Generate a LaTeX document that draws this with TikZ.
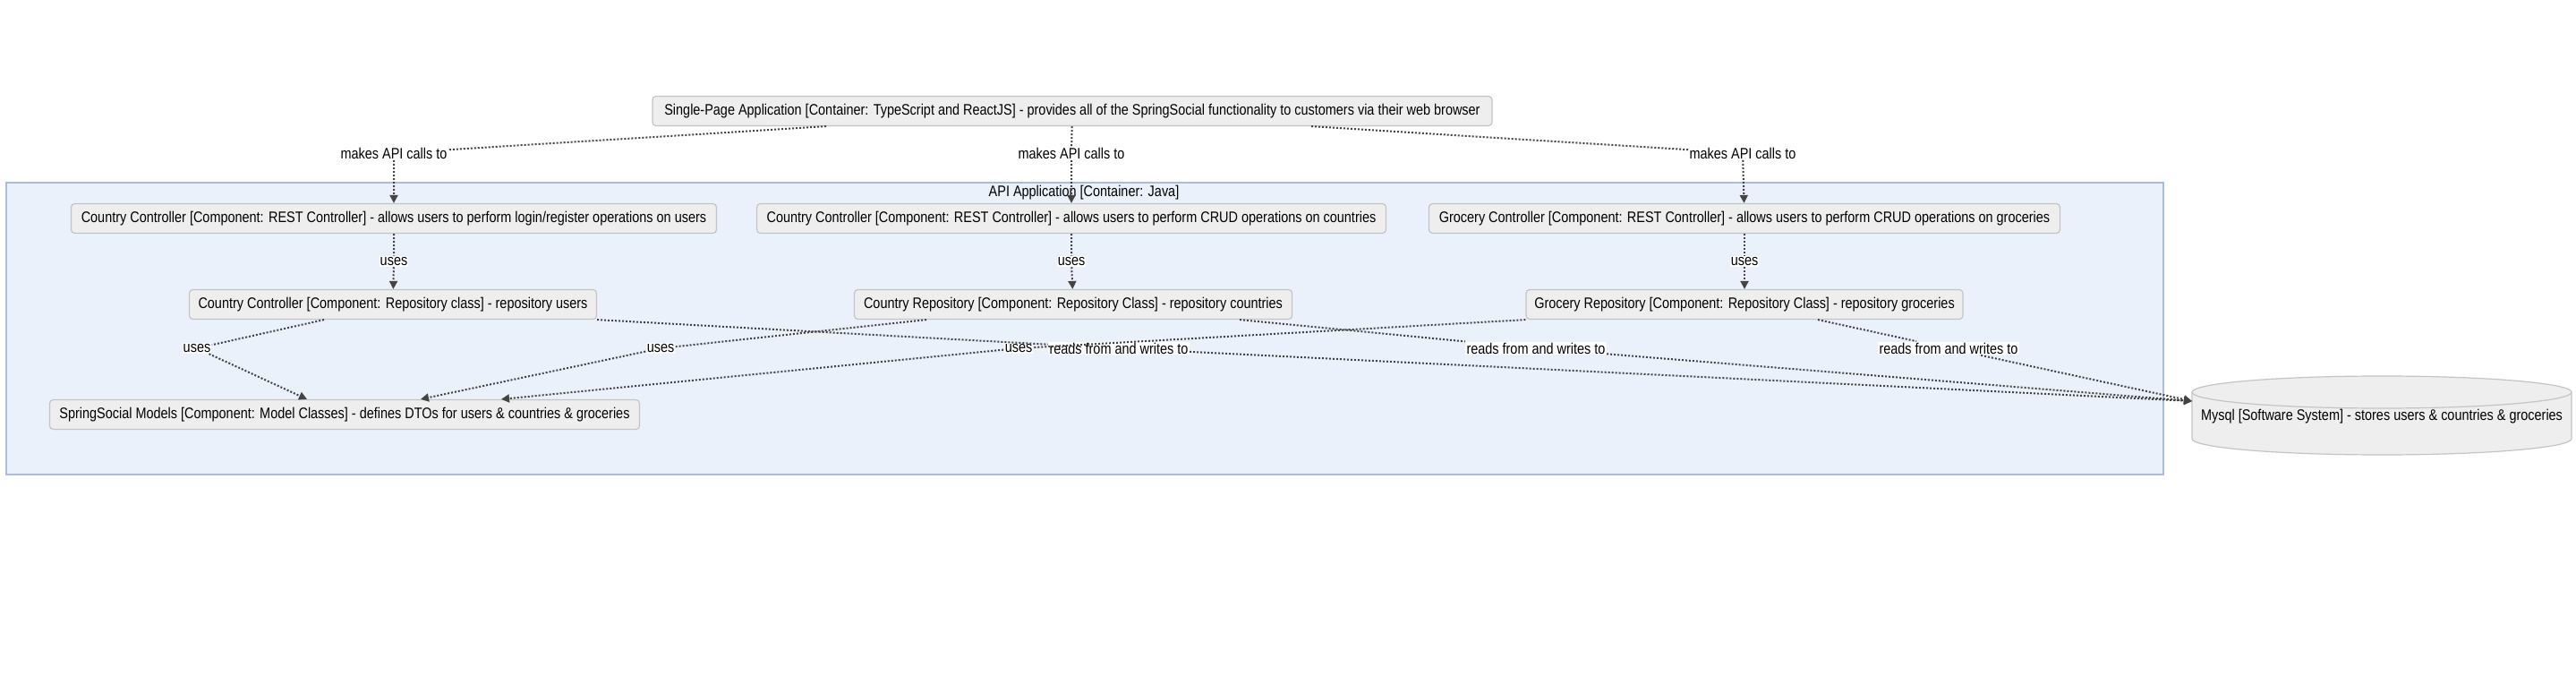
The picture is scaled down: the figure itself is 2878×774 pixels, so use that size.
\documentclass[tikz,border=0pt]{standalone}
\usepackage{fontspec}
\setmainfont[FakeStretch=0.85]{Liberation Sans}
\usetikzlibrary{arrows.meta}
\definecolor{nodefill}{HTML}{EEEEEE}
\definecolor{nodeline}{HTML}{C4C4C4}
\definecolor{bfill}{HTML}{EBF1FA}
\definecolor{bline}{HTML}{A9BEDC}
\definecolor{edgecol}{HTML}{444444}
\begin{document}
\begin{tikzpicture}[x=0.5pt,y=-0.5pt,
  txt/.style={font=\fontsize{8.5}{10}\selectfont},
  comp/.style={txt, draw=nodeline, fill=nodefill, rounded corners=2pt, minimum height=16.5pt, inner sep=0pt, line width=0.6pt},
  lbl/.style={txt, fill=white, inner sep=0.6pt},
  rel/.style={draw=edgecol, line width=1pt, dash pattern=on 1pt off 1pt, -{Triangle[length=4.5pt,width=4.5pt]}},
  boundary/.style={draw=bline, fill=bfill, line width=0.7pt, inner sep=0pt},
]
\useasboundingbox[fill=white] (0,0) rectangle (2878,774);

% boundary
\node[boundary, minimum width=1205pt, minimum height=163pt] (api) at (1212,367) {};
\node[txt, inner sep=0pt] (apititle) at (1211,215) {API Application [Container: Java]};

% nodes
\node[comp, minimum width=469pt] (top) at (1198,124) {Single-Page Application [Container: TypeScript and ReactJS] - provides all of the SpringSocial functionality to customers via their web browser};

\node[comp, minimum width=360.5pt] (A) at (440,244) {Country Controller [Component: REST Controller] - allows users to perform login/register operations on users};
\node[comp, minimum width=351.5pt] (B) at (1197,244) {Country Controller [Component: REST Controller] - allows users to perform CRUD operations on countries};
\node[comp, minimum width=352.5pt] (C) at (1949,244) {Grocery Controller [Component: REST Controller] - allows users to perform CRUD operations on groceries};

\node[comp, minimum width=227.5pt] (D) at (439,340) {Country Controller [Component: Repository class] - repository users};
\node[comp, minimum width=244.5pt] (E) at (1199,340) {Country Repository [Component: Repository Class] - repository countries};
\node[comp, minimum width=244pt] (F) at (1949,340) {Grocery Repository [Component: Repository Class] - repository groceries};

\node[comp, minimum width=329.5pt] (models) at (385,463) {SpringSocial Models [Component: Model Classes] - defines DTOs for users \& countries \& groceries};

% database cylinder
\fill[nodefill] (2449,438) -- (2449,490) arc[start angle=180, end angle=0, x radius=212, y radius=18] -- (2873,438) -- cycle;
\draw[nodeline, line width=0.6pt, fill=nodefill] (2661,438) ellipse[x radius=212, y radius=18];
\draw[nodeline, line width=0.6pt] (2449,438) -- (2449,490) arc[start angle=180, end angle=0, x radius=212, y radius=18] -- (2873,438);
\node[txt, inner sep=0pt] (mysql) at (2661,465) {Mysql [Software System] - stores users \& countries \& groceries};
\coordinate (dbin) at (2449,448);

% labels
\node[lbl] (m1) at (440,171) {makes API calls to};
\node[lbl] (m2) at (1197,171) {makes API calls to};
\node[lbl] (m3) at (1947,171) {makes API calls to};
\node[lbl] (u1) at (440,292) {uses};
\node[lbl] (u2) at (1197,292) {uses};
\node[lbl] (u3) at (1949,292) {uses};
\node[lbl] (ua) at (220,389) {uses};
\node[lbl] (ub) at (738,389) {uses};
\node[lbl] (uc) at (1138,389) {uses};
\node[lbl] (ra) at (1250,389) {reads from and writes to};
\node[lbl] (rb) at (1716,389) {reads from and writes to};
\node[lbl] (rc) at (2177,389) {reads from and writes to};

% relations
\draw[rel] ([xshift=-137.5pt]top.south) -- (m1) -- (A);
\draw[rel] (top) -- (m2) -- (B);
\draw[rel] ([xshift=133.5pt]top.south) -- (m3) -- (C);

\draw[rel] (A) -- (u1) -- (D);
\draw[rel] (B) -- (u2) -- (E);
\draw[rel] (C) -- (u3) -- (F);

\draw[rel] ([xshift=-38.5pt]D.south) -- (ua) -- ([xshift=-21pt]models.north);
\draw[rel] ([xshift=-82pt]E.south) -- (ub) -- ([xshift=42.5pt]models.north);
\draw[rel] (F.south west) -- (uc) -- ([xshift=87.5pt]models.north);

\draw[rel] (D.south east) -- (ra) -- (dbin);
\draw[rel] ([xshift=93pt]E.south) -- (rb) -- (dbin);
\draw[rel] ([xshift=41pt]F.south) -- (rc) -- (dbin);
\end{tikzpicture}
\end{document}
